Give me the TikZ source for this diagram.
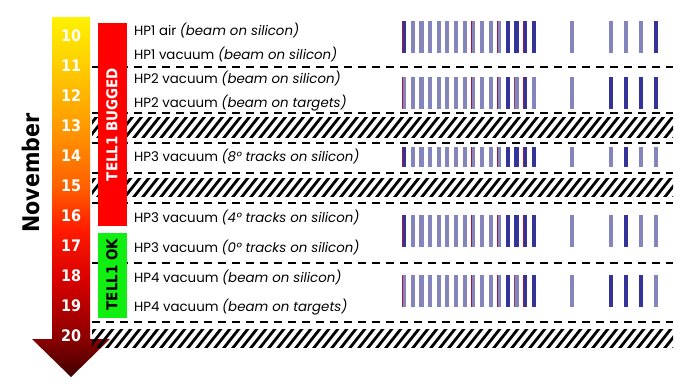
\documentclass[tikz,border=0pt]{standalone}
\usepackage{fontspec}
\setmainfont{Poppins}
\newfontfamily\tah{DejaVu Sans Condensed}
\definecolor{barblue}{HTML}{333399}
\definecolor{dith}{HTML}{8585BE}
\definecolor{redge}{HTML}{A01840}
\definecolor{boxred}{HTML}{FF0000}
\definecolor{boxgreen}{HTML}{11EE11}
\definecolor{gA}{HTML}{FFF200}
\definecolor{gB}{HTML}{FFCC00}
\definecolor{gC}{HTML}{FF9900}
\definecolor{gD}{HTML}{FF6000}
\definecolor{gE}{HTML}{FF1A00}
\definecolor{gF}{HTML}{D80000}
\definecolor{gG}{HTML}{8A0000}
\definecolor{gH}{HTML}{420000}
\pgfdeclareverticalshading{arrowgrad}{100bp}{color(0bp)=(gH); color(25bp)=(gH); color(30.3bp)=(gG); color(38.5bp)=(gF); color(45.4bp)=(gE); color(51.4bp)=(gD); color(59.7bp)=(gC); color(68bp)=(gB); color(75bp)=(gA); color(100bp)=(gA)}
\tikzset{
  x=1bp, y=-1bp,
  num/.style={text=white, font=\tah\bfseries\fontsize{16}{16}\selectfont, inner sep=0},
  rowtxt/.style={anchor=west, inner sep=0, font=\fontsize{13.4}{13.4}\selectfont},
  sepline/.style={line width=2bp, dash pattern=on 8bp off 6bp},
  barS/.style={fill=barblue},
  barD/.style={fill=dith},
  barR/.style={fill=barblue, path picture={\draw[redge, line width=2.4bp] (path picture bounding box.north west) -- (path picture bounding box.south west);}},
  barQ/.style={fill=dith, path picture={\draw[redge, line width=1.6bp] (path picture bounding box.north west) -- (path picture bounding box.south west);}},
  boxlabel/.style={rotate=90, font=\tah\bfseries\fontsize{15}{15}\selectfont, inner sep=0}
}
\newcommand\bargroup[3]{%
  \foreach \bt [count=\bi] in {#3}{%
    \pgfmathsetmacro\bx{{402,410.65,419.3,427.95,436.6,445.25,453.9,462.55,471.2,479.85,488.5,497.15,505.8,514.45,523.1,531.75,570,609,624,639,654}[\bi-1]}%
    \path[bar\bt] (\bx,#1) rectangle (\bx+4.2,#2);}}
\newcommand\hatchband[2]{%
  \begin{scope}
    \clip (92,#1) rectangle (673,#2);
    \foreach \hx in {70,79,...,690}
      \draw[line width=2.8bp] (\hx,#2+2) -- ++(19,-24);
  \end{scope}}
\begin{document}
\begin{tikzpicture}
\fill[white] (0,0) rectangle (689,383);
\useasboundingbox (0,0) rectangle (689,383);

% timeline arrow
\shade[shading=arrowgrad] (52,17) -- (90,17) -- (90,339) -- (110,339) -- (71,377) -- (32,339) -- (52,339) -- cycle;
\foreach \d [count=\k from 0] in {10,...,20}
  \node[num] (day\d) at (71,36+30*\k) {\d};
\node[rotate=90, font=\tah\bfseries\fontsize{23}{23}\selectfont, inner sep=0] (nov) at (31,173) {November};

% separators
\foreach \yy [count=\k] in {67,113,143,173,203,263,322}
  \draw[sepline] (92,\yy) coordinate (sa\k) -- (673,\yy) coordinate (sb\k);
\hatchband{117}{137}
\hatchband{178}{196}
\hatchband{329}{347}

% status boxes
\node[fill=boxred, inner sep=0, minimum width=29bp, minimum height=203bp] (bug) at (112.5,124.5) {};
\node[boxlabel, text=white] (bugtxt) at (112,124.5) {TELL1 BUGGED};
\node[fill=boxgreen, inner sep=0, minimum width=29bp, minimum height=85bp] (ok) at (112.5,275.5) {};
\node[boxlabel, text=black] (oktxt) at (112,274.5) {TELL1 OK};

% run labels
\node[rowtxt] (r1) at (134,31) {HP1 air \textit{(beam on silicon)}};
\node[rowtxt] (r2) at (134,55) {HP1 vacuum \textit{(beam on silicon)}};
\node[rowtxt] (r3) at (134,79) {HP2 vacuum \textit{(beam on silicon)}};
\node[rowtxt] (r4) at (134,103) {HP2 vacuum \textit{(beam on targets)}};
\node[rowtxt] (r5) at (134,157) {HP3 vacuum \textit{(8° tracks on silicon)}};
\node[rowtxt] (r6) at (134,217) {HP3 vacuum \textit{(4° tracks on silicon)}};
\node[rowtxt] (r7) at (134,247) {HP3 vacuum \textit{(0° tracks on silicon)}};
\node[rowtxt] (r8) at (134,277) {HP4 vacuum \textit{(beam on silicon)}};
\node[rowtxt] (r9) at (134,307) {HP4 vacuum \textit{(beam on targets)}};

% channel bars
\bargroup{21}{53}{R,D,D,D,D,D,D,D,Q,D,D,Q,S,S,R,S,D,D,D,D,S}
\bargroup{77}{109}{Q,D,D,D,D,D,D,D,Q,D,D,Q,S,Q,R,D,D,S,S,S,S}
\bargroup{147}{167}{R,D,D,D,D,D,D,D,Q,D,D,Q,S,S,R,S,D,D,S,D,D}
\bargroup{215}{247}{R,D,D,D,D,D,D,D,Q,D,D,Q,S,S,R,S,D,D,S,D,D}
\bargroup{275}{307}{Q,D,D,D,D,D,D,D,Q,D,D,Q,S,Q,R,S,D,S,S,S,D}
\end{tikzpicture}
\end{document}
